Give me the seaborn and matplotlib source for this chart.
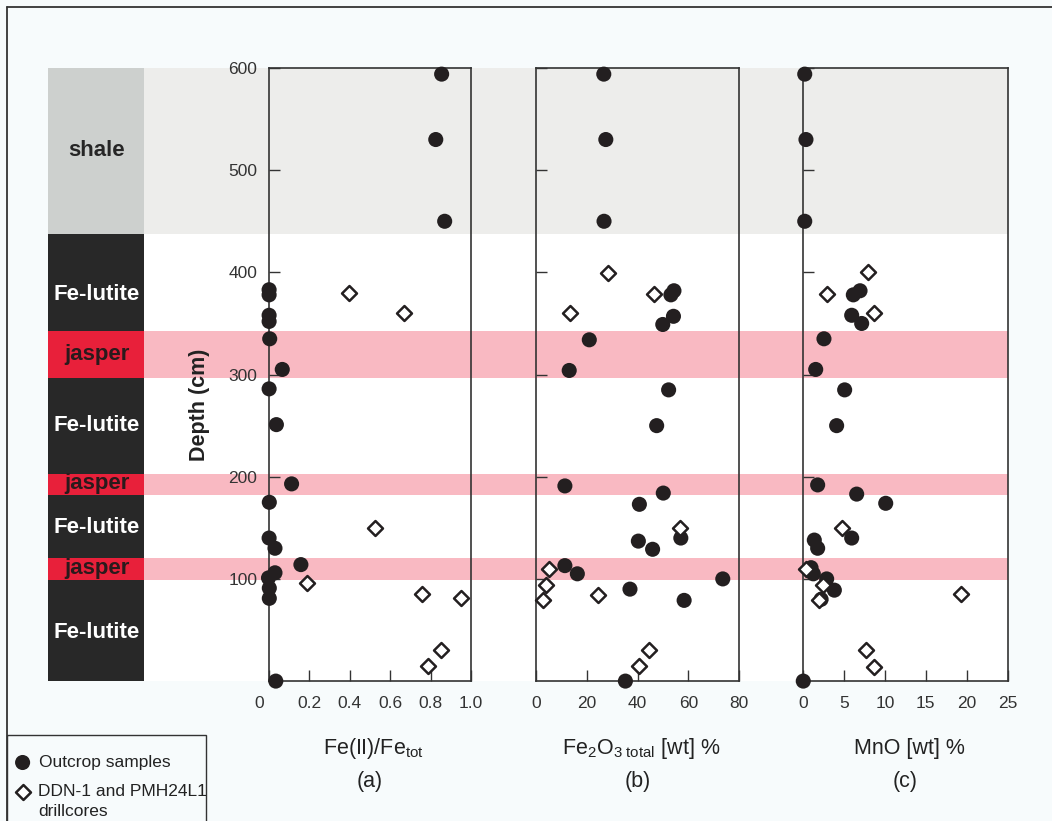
import numpy as np
import pandas as pd
import matplotlib
matplotlib.use("Agg")
import matplotlib.pyplot as plt
import matplotlib.transforms as mtransforms
from matplotlib.patches import Rectangle
import seaborn as sns

# ---------------------------------------------------------------
# Lithological column (depth in cm)
# ---------------------------------------------------------------
litho_names = ["Fe-lutite", "jasper", "Fe-lutite", "jasper",
               "Fe-lutite", "jasper", "Fe-lutite", "shale"]
litho_base = [0, 99, 120, 182, 203, 297, 343, 438]
litho_top = [99, 120, 182, 203, 297, 343, 438, 600]
litho_label_depth = [48, 110, 150, 193, 250, 320, 378, 519]

# ---------------------------------------------------------------
# (a) Fe(II)/Fe_tot
# ---------------------------------------------------------------
a_out_depth = [594, 530, 450, 383, 378, 358, 352, 335, 305, 286, 251,
               193, 175, 140, 130, 114, 106, 101, 91, 81, 0]
a_out_value = [0.855, 0.826, 0.870, 0.003, 0.003, 0.003, 0.003, 0.006,
               0.068, 0.003, 0.039, 0.114, 0.004, 0.003, 0.032, 0.160,
               0.032, 0.0, 0.004, 0.004, 0.036]
a_core_depth = [380, 360, 150, 96, 85, 81, 30, 15]
a_core_value = [0.396, 0.670, 0.527, 0.191, 0.759, 0.950, 0.850, 0.788]

# ---------------------------------------------------------------
# (b) Fe2O3 total [wt] %
# ---------------------------------------------------------------
b_out_depth = [594, 530, 450, 382, 378, 357, 349, 334, 304, 285, 250,
               191, 184, 173, 140, 137, 129, 113, 105, 100, 90, 79, 0]
b_out_value = [26.7, 27.5, 26.8, 54.3, 53.1, 54.1, 49.9, 21.0, 13.1, 52.2,
               47.5, 11.4, 50.1, 40.7, 57.0, 40.3, 45.9, 11.4, 16.3, 73.5,
               37.0, 58.3, 35.2]
b_core_depth = [399, 379, 360, 150, 110, 94, 84, 79, 30, 15]
b_core_value = [28.5, 46.6, 13.5, 56.7, 5.3, 4.0, 24.3, 2.9, 44.5, 40.6]

# ---------------------------------------------------------------
# (c) MnO [wt] %
# ---------------------------------------------------------------
c_out_depth = [594, 530, 450, 382, 378, 358, 350, 335, 305, 285, 250,
               192, 183, 174, 140, 138, 130, 111, 105, 100, 89, 80, 0]
c_out_value = [0.2, 0.35, 0.2, 6.96, 6.14, 5.94, 7.16, 2.55, 1.54, 5.08,
               4.1, 1.78, 6.55, 10.1, 5.94, 1.37, 1.78, 0.97, 1.25, 2.88,
               3.82, 2.2, 0.02]
c_core_depth = [400, 379, 360, 150, 110, 94, 85, 79, 30, 14]
c_core_value = [7.93, 2.96, 8.7, 4.72, 0.32, 2.47, 19.3, 1.98, 7.69, 8.67]

panel_xlabels = [r"Fe(II)/Fe$_{tot}$", r"Fe$_2$O$_{3\ total}$ [wt] %", "MnO [wt] %"]
panel_tags = ["(a)", "(b)", "(c)"]
panel_xlims = [(0, 1.0), (0, 80), (0, 25)]
panel_xticks = [[0, 0.2, 0.4, 0.6, 0.8, 1.0], [0, 20, 40, 60, 80], [0, 5, 10, 15, 20, 25]]
panel_xticklabels = [["0", "0.2", "0.4", "0.6", "0.8", "1.0"],
                     ["0", "20", "40", "60", "80"],
                     ["0", "5", "10", "15", "20", "25"]]
depth_ticks = [100, 200, 300, 400, 500, 600]
legend_labels = ["Outcrop samples", "DDN-1 and PMH24L1\ndrillcores"]

# ---------------------------------------------------------------
# Style
# ---------------------------------------------------------------
sns.set_theme(style="white")
plt.rcParams["font.family"] = ["Liberation Sans", "DejaVu Sans"]
plt.rcParams["mathtext.fontset"] = "custom"
plt.rcParams["mathtext.rm"] = "Liberation Sans"
plt.rcParams["mathtext.it"] = "Liberation Sans:italic"
plt.rcParams["mathtext.bf"] = "Liberation Sans:bold"
plt.rcParams["mathtext.default"] = "regular"

BG = "#f7fbfc"
INK = "#231f20"
LINE = "#333333"
unit_fill = {"shale": "#cdd0ce", "Fe-lutite": "#282828", "jasper": "#e8203a"}
unit_text = {"shale": "#262626", "Fe-lutite": "#ffffff", "jasper": "#2a1a1c"}
band_fill = {"shale": "#ededeb", "jasper": "#f9b9c2"}

W, H = 1052, 821
Y_TOP, Y_BOT = 68.0, 681.1

fig = plt.figure(figsize=(W / 100, H / 100), dpi=100, facecolor=BG)


def px_rect(x0, x1):
    return [x0 / W, 1 - Y_BOT / H, (x1 - x0) / W, (Y_BOT - Y_TOP) / H]


# Background: lithology column and bands across the panels
ax_bg = fig.add_axes(px_rect(48, 1007.6), zorder=0)
ax_bg.set_facecolor("white")
ax_bg.set_xlim(0, 1)
ax_bg.set_ylim(0, 600)
for s in ax_bg.spines.values():
    s.set_visible(False)
ax_bg.set_xticks([])
ax_bg.set_yticks([])
col_frac = (143.5 - 48) / (1007.6 - 48)
lab_tr = mtransforms.blended_transform_factory(ax_bg.transAxes, ax_bg.transData)
for name, lo, hi, ld in zip(litho_names, litho_base, litho_top, litho_label_depth):
    ax_bg.axhspan(lo, hi, xmin=0, xmax=col_frac, color=unit_fill[name], lw=0)
    if name in band_fill:
        ax_bg.axhspan(lo, hi, xmin=col_frac, xmax=1, color=band_fill[name], lw=0)
    ax_bg.text(col_frac / 2 + 0.001, ld, name, transform=lab_tr, ha="center",
               va="center", fontsize=16, fontweight="bold", color=unit_text[name])

panels = [
    (a_out_depth, a_out_value, a_core_depth, a_core_value),
    (b_out_depth, b_out_value, b_core_depth, b_core_value),
    (c_out_depth, c_out_value, c_core_depth, c_core_value),
]
panel_px = [(268.5, 471.0), (535.9, 739.3), (803.1, 1007.6)]

for i, ((od, ov, cd, cv), (x0, x1)) in enumerate(zip(panels, panel_px)):
    ax = fig.add_axes(px_rect(x0, x1), zorder=2)
    ax.patch.set_alpha(0)
    out_df = pd.DataFrame({"value": ov, "depth": od})
    core_df = pd.DataFrame({"value": cv, "depth": cd})
    sns.scatterplot(data=out_df, x="value", y="depth", ax=ax, color=INK,
                    marker="o", s=118, edgecolor="none", linewidth=0,
                    clip_on=False, zorder=3, legend=False)
    sns.scatterplot(data=core_df, x="value", y="depth", ax=ax, marker="D",
                    s=58, facecolor="white", edgecolor=INK, linewidth=1.8,
                    clip_on=False, zorder=4, legend=False)
    ax.set_xlim(*panel_xlims[i])
    ax.set_ylim(0, 600)
    ax.set_xlabel("")
    ax.set_ylabel("")
    for s in ax.spines.values():
        s.set_visible(True)
        s.set_color(LINE)
        s.set_linewidth(1.2)
    ax.set_xticks(panel_xticks[i], labels=panel_xticklabels[i])
    ax.set_yticks(depth_ticks)
    ax.tick_params(axis="both", direction="in", length=8, width=1.0,
                   color=LINE, labelsize=12.5, labelcolor="#333333")
    ax.tick_params(axis="x", pad=11, bottom=True, top=False)
    ax.tick_params(axis="y", pad=8, left=True, right=False,
                   labelleft=(i == 0))
    if i == 0:
        lbl = ax.xaxis.get_major_ticks()[0].label1
        lbl.set_transform(lbl.get_transform() +
                          mtransforms.ScaledTranslation(-9 / 100, 0, fig.dpi_scale_trans))
    tr = mtransforms.blended_transform_factory(ax.transAxes, fig.transFigure)
    ax.text(0.52, 1 - 748 / H, panel_xlabels[i], transform=tr, ha="center",
            va="center", fontsize=15.5, color="#222222")
    ax.text(0.5, 1 - 781 / H, panel_tags[i], transform=tr, ha="center",
            va="center", fontsize=15.5, color="#222222")

fig.text(200 / W, 1 - 405 / H, "Depth (cm)", rotation=90, ha="center",
         va="center", fontsize=15.5, fontweight="bold", color="#222222")

# Overlay in pixel units: frame lines and legend
ov = fig.add_axes([0, 0, 1, 1], zorder=5)
ov.set_xlim(0, W)
ov.set_ylim(H, 0)
ov.axis("off")
ov.plot([7, W], [7, 7], color=LINE, lw=1.3, clip_on=False)
ov.plot([7, 7], [7, H], color=LINE, lw=1.3, clip_on=False)
ov.add_patch(Rectangle((7, 735), 199, 100, fill=False, ec=LINE, lw=1.0,
                       clip_on=False))
ov.scatter([22.6], [762.5], s=118, marker="o", color=INK, edgecolor="none")
ov.scatter([22.6], [792], s=58, marker="D", facecolor="white",
           edgecolor=INK, linewidth=1.8)
ov.text(39, 762.5, legend_labels[0], va="center", ha="left", fontsize=12.5,
        color="#222222")
ov.text(38, 792, legend_labels[1].split("\n")[0], va="center", ha="left",
        fontsize=12.5, color="#222222")
ov.text(38, 812, legend_labels[1].split("\n")[1], va="center", ha="left",
        fontsize=12.5, color="#222222")

fig.savefig("out.png", dpi=100, facecolor=BG)
